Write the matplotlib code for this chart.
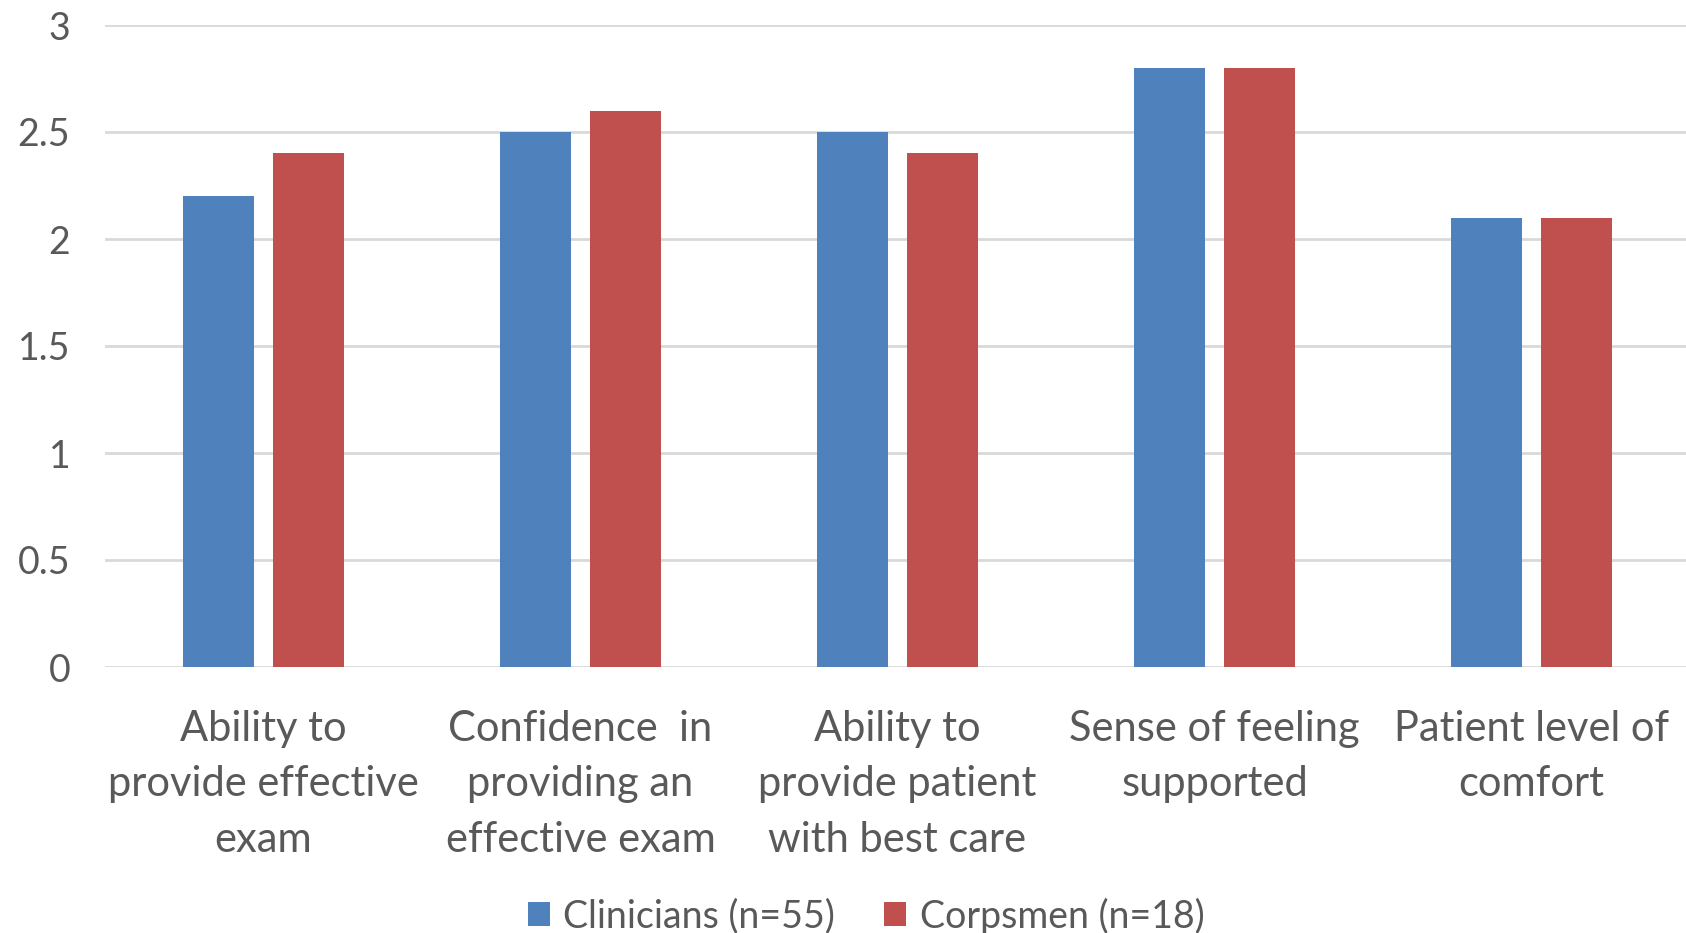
import matplotlib
matplotlib.use("Agg")
import matplotlib.pyplot as plt
import numpy as np

categories = ["Ability to\nprovide effective\nexam",
              "Confidence  in\nproviding an\neffective exam",
              "Ability to\nprovide patient\nwith best care",
              "Sense of feeling\nsupported",
              "Patient level of\ncomfort"]
clinicians = [2.2, 2.5, 2.5, 2.8, 2.1]
corpsmen = [2.4, 2.6, 2.4, 2.8, 2.1]
series_names = ["Clinicians (n=55)", "Corpsmen (n=18)"]
yticks = [0, 0.5, 1, 1.5, 2, 2.5, 3]
ytick_labels = ["0", "0.5", "1", "1.5", "2", "2.5", "3"]

plt.rcParams['font.family'] = ['Lato', 'DejaVu Sans']
W, H = 1686, 933
fig = plt.figure(figsize=(W / 100, H / 100), dpi=100)
ax = fig.add_axes([105 / W, (H - 667) / H, (1690 - 105) / W, (667 - 25) / H])

text_color = "#595959"
x = np.arange(len(categories))
bw = 0.227
off = 0.142
ax.bar(x - off, clinicians, bw, color="#4f81bd", label=series_names[0], zorder=3)
ax.bar(x + off, corpsmen, bw, color="#c0504d", label=series_names[1], zorder=3)

ax.set_xlim(-0.5, len(categories) - 0.5)
ax.set_ylim(0, 3)
ax.set_yticks(yticks)
ax.set_yticklabels(ytick_labels)
ax.set_xticks(x)
ax.set_xticklabels(categories, linespacing=1.56)
for s in ax.spines.values():
    s.set_visible(False)
ax.grid(axis="y", color="#d9d9d9", linewidth=2, zorder=0)
ax.tick_params(axis="y", length=0, pad=25, labelsize=27, labelcolor=text_color)
ax.tick_params(axis="x", length=0, pad=31, labelsize=30, labelcolor=text_color)

leg = fig.legend(loc="center", bbox_to_anchor=(866 / W, 1 - 916 / H), ncol=2,
                 frameon=False, fontsize=27, handlelength=0.6, handleheight=0.6,
                 handletextpad=0.35, columnspacing=1.3, labelcolor=text_color)

fig.savefig("out.png", dpi=100, facecolor="white")
